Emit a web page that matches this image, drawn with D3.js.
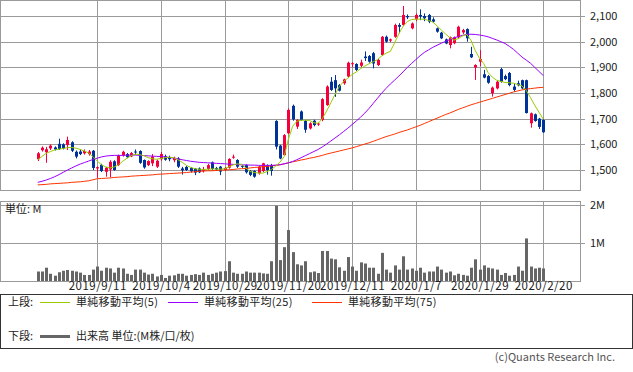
<!DOCTYPE html>
<html>
<head>
<meta charset="utf-8">
<script src="https://cdn.jsdelivr.net/npm/d3@7"></script>
<style>
  body { margin: 0; background: #fff; }
  svg { display: block; font-family: "Noto Sans CJK JP", "Noto Sans", sans-serif; }
</style>
</head>
<body>
<div id="chart"></div>
<script>
// Trading days (x categories)
const dates = [
  "2019/8/22","2019/8/23","2019/8/26","2019/8/27","2019/8/28","2019/8/29","2019/8/30",
  "2019/9/2","2019/9/3","2019/9/4","2019/9/5","2019/9/6","2019/9/9","2019/9/10","2019/9/11",
  "2019/9/12","2019/9/13","2019/9/17","2019/9/18","2019/9/19","2019/9/20","2019/9/24","2019/9/25","2019/9/26","2019/9/27","2019/9/30",
  "2019/10/1","2019/10/2","2019/10/3","2019/10/4",
  "2019/10/7","2019/10/8","2019/10/9","2019/10/10","2019/10/11","2019/10/15","2019/10/16","2019/10/17","2019/10/18","2019/10/21","2019/10/23","2019/10/24","2019/10/25","2019/10/28","2019/10/29",
  "2019/10/30","2019/10/31","2019/11/1","2019/11/5","2019/11/6","2019/11/7","2019/11/8","2019/11/11","2019/11/12","2019/11/13","2019/11/14","2019/11/15","2019/11/18","2019/11/19","2019/11/20",
  "2019/11/21","2019/11/22","2019/11/25","2019/11/26","2019/11/27","2019/11/28","2019/11/29","2019/12/2","2019/12/3","2019/12/4","2019/12/5","2019/12/6","2019/12/9","2019/12/10","2019/12/11",
  "2019/12/12","2019/12/13","2019/12/16","2019/12/17","2019/12/18","2019/12/19","2019/12/20","2019/12/23","2019/12/24","2019/12/25","2019/12/26","2019/12/27","2019/12/30","2020/1/6","2020/1/7",
  "2020/1/8","2020/1/9","2020/1/10","2020/1/14","2020/1/15","2020/1/16","2020/1/17","2020/1/20","2020/1/21","2020/1/22","2020/1/23","2020/1/24","2020/1/27","2020/1/28","2020/1/29",
  "2020/1/30","2020/1/31","2020/2/3","2020/2/4","2020/2/5","2020/2/6","2020/2/7","2020/2/10","2020/2/12","2020/2/13","2020/2/14","2020/2/17","2020/2/18","2020/2/19","2020/2/20"
];

// OHLC
const opens = [
  1542,1577,1569,1584,1588,1602,1600,1597,1608,1571,
  1572,1565,1562,1575,1506,1520,1493,1502,1534,1519,
  1556,1562,1553,1572,1574,1539,1519,1526,1513,1542,
  1554,1550,1538,1545,1506,1512,1508,1505,1506,1496,
  1504,1530,1508,1513,1500,1509,1548,1539,1516,1519,
  1496,1496,1487,1496,1519,1519,1691,1595,1558,1643,
  1750,1669,1728,1691,1662,1692,1678,1695,1753,1844,
  1850,1831,1838,1864,1912,1913,1906,1942,1944,1955,
  1909,1948,2019,2004,2019,2065,2065,2100,2052,2087,
  2104,2100,2104,2087,2052,2035,2009,1987,1994,2017,
  2036,2049,1952,1899,1922,1873,1866,1799,1818,1893,
  1866,1878,1825,1838,1850,1850,1682,1717,1700,1695
];
const highs = [
  1570,1592,1590,1600,1592,1622,1604,1630,1612,1576,
  1580,1580,1578,1578,1514,1524,1512,1538,1538,1560,
  1575,1566,1570,1580,1577,1541,1538,1562,1540,1570,
  1560,1556,1552,1550,1512,1516,1512,1508,1510,1512,
  1524,1533,1512,1516,1512,1546,1560,1542,1520,1522,
  1500,1499,1516,1528,1522,1524,1694,1598,1640,1740,
  1755,1698,1732,1695,1686,1696,1684,1780,1830,1862,
  1870,1835,1856,1922,1920,1916,1930,1962,1948,1960,
  1934,2022,2024,2012,2070,2072,2139,2106,2075,2110,
  2126,2110,2108,2095,2055,2038,2012,2020,2020,2062,
  2050,2052,1980,1912,1967,1890,1870,1825,1848,1898,
  1872,1882,1838,1848,1852,1852,1724,1720,1703,1698
];
const lows = [
  1535,1572,1528,1578,1576,1578,1580,1578,1570,1545,
  1558,1560,1556,1500,1470,1492,1474,1472,1497,1515,
  1552,1546,1550,1560,1524,1505,1515,1515,1508,1536,
  1536,1534,1530,1508,1482,1496,1490,1480,1488,1490,
  1500,1500,1496,1480,1496,1505,1544,1508,1508,1486,
  1476,1470,1482,1492,1482,1478,1580,1542,1555,1640,
  1692,1660,1692,1645,1658,1670,1672,1690,1750,1808,
  1785,1806,1832,1860,1900,1886,1900,1925,1918,1896,
  1905,1944,1996,1998,2015,2033,2060,2088,2048,2080,
  2084,2080,2072,2074,2035,2010,1990,1974,1990,2013,
  2030,2000,1936,1851,1905,1857,1836,1786,1814,1840,
  1850,1826,1805,1826,1815,1720,1665,1688,1660,1645
];
const closes = [
  1565,1587,1581,1595,1580,1582,1584,1617,1575,1552,
  1562,1574,1572,1508,1511,1496,1509,1532,1500,1557,
  1571,1550,1566,1570,1528,1510,1535,1552,1536,1562,
  1540,1542,1548,1513,1499,1500,1495,1490,1491,1502,
  1519,1504,1502,1494,1508,1543,1552,1513,1512,1491,
  1481,1474,1513,1526,1500,1496,1591,1545,1636,1734,
  1697,1695,1695,1657,1682,1675,1681,1776,1825,1812,
  1818,1809,1853,1918,1916,1890,1919,1936,1922,1915,
  1929,2019,2000,2009,2065,2058,2104,2095,2071,2104,
  2098,2091,2078,2078,2039,2013,1993,2017,2017,2058,
  2045,2013,1939,1909,1932,1860,1840,1821,1844,1844,
  1854,1831,1812,1830,1818,1722,1721,1691,1668,1647
];

// Volume, million shares
const volumes = [
  0.25,0.25,0.35,0.19,0.14,0.23,0.27,0.29,0.27,0.25,
  0.22,0.16,0.16,0.30,0.38,0.27,0.35,0.33,0.22,0.35,
  0.33,0.19,0.16,0.30,0.30,0.22,0.17,0.19,0.12,0.16,
  0.08,0.14,0.15,0.19,0.19,0.14,0.16,0.18,0.16,0.22,
  0.16,0.19,0.22,0.25,0.26,0.52,0.22,0.19,0.19,0.25,
  0.22,0.22,0.22,0.20,0.19,0.52,1.98,0.55,0.89,1.34,
  0.76,0.44,0.41,0.52,0.23,0.25,0.21,0.79,0.79,0.59,
  0.57,0.36,0.27,0.63,0.38,0.27,0.49,0.46,0.35,0.35,
  0.19,0.74,0.30,0.22,0.41,0.30,0.65,0.30,0.33,0.27,
  0.35,0.22,0.25,0.25,0.38,0.30,0.22,0.25,0.15,0.19,
  0.16,0.14,0.35,0.57,0.30,0.41,0.35,0.33,0.30,0.16,
  0.21,0.14,0.16,0.38,0.27,1.12,0.38,0.33,0.35,0.33
];

// Moving averages
const ma5 = [
  1540,1553,1565,1572,1578,1581,1584,1587,1588,1585,
  1580,1574,1566,1552,1535,1520,1512,1508,1512,1520,
  1534,1546,1556,1562,1560,1556,1548,1544,1542,1545,
  1548,1550,1548,1540,1530,1518,1510,1505,1503,1502,
  1503,1504,1504,1503,1505,1512,1520,1524,1522,1508,
  1494,1490,1488,1488,1494,1502,1515,1530,1552,1620,
  1670,1690,1694,1694,1693,1684,1682,1700,1730,1762,
  1795,1825,1845,1858,1872,1882,1895,1905,1914,1922,
  1930,1945,1955,1962,1995,2030,2060,2078,2086,2088,
  2088,2087,2083,2076,2062,2045,2030,2016,2006,2012,
  2022,2028,2005,1965,1935,1915,1880,1862,1850,1845,
  1841,1840,1838,1833,1828,1810,1782,1752,1725,1698
];
const ma25 = [
  1452,1456,1461,1467,1474,1482,1491,1500,1508,1516,
  1523,1529,1535,1541,1546,1551,1554,1556,1557,1557,
  1557,1558,1558,1558,1557,1556,1555,1554,1553,1552,
  1551,1549,1546,1543,1540,1537,1534,1532,1530,1529,
  1528,1527,1526,1525,1524,1523,1522,1521,1520,1520,
  1519,1519,1518,1518,1518,1518,1519,1521,1524,1528,
  1533,1540,1548,1556,1564,1572,1580,1590,1601,1613,
  1625,1637,1650,1663,1677,1691,1706,1722,1740,1760,
  1780,1800,1818,1835,1850,1866,1882,1900,1915,1930,
  1945,1958,1968,1978,1986,1994,2001,2008,2015,2020,
  2025,2028,2029,2028,2026,2023,2019,2013,2007,2000,
  1993,1982,1970,1955,1940,1928,1916,1900,1884,1868
];
const ma75 = [
  1442,1443,1444,1446,1447,1448,1449,1450,1452,1453,
  1454,1456,1458,1462,1466,1467,1468,1469,1471,1472,
  1473,1474,1476,1477,1478,1479,1480,1481,1483,1484,
  1485,1486,1487,1488,1489,1490,1492,1493,1495,1496,
  1497,1497,1498,1499,1500,1501,1502,1504,1505,1506,
  1508,1510,1511,1513,1514,1516,1518,1520,1524,1528,
  1532,1535,1539,1542,1546,1549,1553,1557,1562,1566,
  1570,1574,1578,1582,1586,1591,1596,1601,1606,1612,
  1618,1624,1630,1635,1640,1646,1651,1656,1662,1668,
  1674,1681,1688,1695,1702,1709,1716,1722,1729,1736,
  1742,1748,1754,1759,1764,1769,1774,1779,1784,1789,
  1794,1799,1804,1808,1812,1815,1817,1819,1821,1822
];

// Axis ticks
const tickDates = ["2019/9/11","2019/10/4","2019/10/29","2019/11/20","2019/12/11","2020/1/7","2020/1/29","2020/2/20"];
const priceTicks = [1500, 1600, 1700, 1800, 1900, 2000, 2100];
const volumeTicks = [1, 2];

async function draw() {

  // Dimensions
  let dimensions = {
    width: 633,
    height: 372,
    plotRight: 580,
    priceTop: 0,
    priceBottom: 190,
    volTop: 201,
    volBottom: 281
  };

  const gridColor = "#9a9a9a";
  const upColor = "#f5003c";
  const downColor = "#003399";
  const textColor = "#222";

  const svg = d3
    .select("#chart")
    .append("svg")
    .attr("width", dimensions.width)
    .attr("height", dimensions.height);

  // Scales
  const xScale = d3.scalePoint()
    .domain(dates)
    .range([0.5, dimensions.plotRight + 0.5])
    .padding(8.77);

  const yScale = d3.scaleLinear()
    .domain([1500, 2100])
    .range([170, 16]);

  const vScale = d3.scaleLinear()
    .domain([0, 2])
    .range([dimensions.volBottom, 205]);

  const crisp = v => Math.round(v) + 0.5;

  // Grid - price panel
  const grid = svg.append("g").attr("stroke", gridColor).attr("stroke-width", 1);

  grid.selectAll(".px")
    .data(tickDates)
    .join("line")
    .attr("x1", d => crisp(xScale(d)))
    .attr("x2", d => crisp(xScale(d)))
    .attr("y1", dimensions.priceTop)
    .attr("y2", dimensions.priceBottom);

  grid.selectAll(".py")
    .data(priceTicks)
    .join("line")
    .attr("x1", 0)
    .attr("x2", dimensions.plotRight + 5)
    .attr("y1", d => crisp(yScale(d)))
    .attr("y2", d => crisp(yScale(d)));

  // Grid - volume panel
  grid.selectAll(".vx")
    .data(tickDates)
    .join("line")
    .attr("x1", d => crisp(xScale(d)))
    .attr("x2", d => crisp(xScale(d)))
    .attr("y1", dimensions.volTop)
    .attr("y2", dimensions.volBottom);

  grid.selectAll(".vy")
    .data(volumeTicks)
    .join("line")
    .attr("x1", 0)
    .attr("x2", dimensions.plotRight + 5)
    .attr("y1", d => crisp(vScale(d)))
    .attr("y2", d => crisp(vScale(d)));

  // panel borders
  svg.append("rect")
    .attr("x", 0.5).attr("y", 0.5)
    .attr("width", dimensions.plotRight).attr("height", dimensions.priceBottom)
    .attr("fill", "none").attr("stroke", gridColor);
  svg.append("rect")
    .attr("x", 0.5).attr("y", dimensions.volTop + 0.5)
    .attr("width", dimensions.plotRight).attr("height", dimensions.volBottom - dimensions.volTop)
    .attr("fill", "none").attr("stroke", gridColor);

  // Right axes
  const yAxis = d3.axisRight(yScale)
    .tickValues(priceTicks)
    .tickSize(0)
    .tickPadding(10)
    .tickFormat(d3.format(","));
  const yAxisGroup = svg.append("g")
    .attr("transform", `translate(${dimensions.plotRight}, 0)`)
    .call(yAxis);

  const vAxis = d3.axisRight(vScale)
    .tickValues(volumeTicks)
    .tickSize(0)
    .tickPadding(10)
    .tickFormat(d => d + "M");
  const vAxisGroup = svg.append("g")
    .attr("transform", `translate(${dimensions.plotRight}, 0)`)
    .call(vAxis);

  const xAxis = d3.axisBottom(xScale)
    .tickValues(tickDates)
    .tickSize(0)
    .tickPadding(1);
  const xAxisGroup = svg.append("g")
    .attr("transform", `translate(0, ${dimensions.volBottom})`)
    .call(xAxis);

  [yAxisGroup, vAxisGroup, xAxisGroup].forEach(g => {
    g.select(".domain").remove();
    g.selectAll("text")
      .attr("fill", textColor)
      .style("font-size", "11px")
      .style("font-family", '"Noto Sans CJK JP", sans-serif');
  });
  // date labels in the original are a touch wider
  xAxisGroup.selectAll("text")
    .style("font-size", "11.5px")
    .style("letter-spacing", "0.5px");

  // Unit label
  svg.append("text")
    .attr("x", 5)
    .attr("y", 213)
    .attr("fill", textColor)
    .style("font-size", "11px")
    .text("単位: M");

  // Volume bars
  svg.append("g")
    .selectAll("rect")
    .data(volumes)
    .join("rect")
    .attr("x", (d, i) => Math.round(xScale(dates[i])) - 1)
    .attr("y", d => vScale(d))
    .attr("width", 3)
    .attr("height", d => dimensions.volBottom - vScale(d))
    .attr("fill", "#666");

  // Candles
  const candles = dates.map((date, i) => ({
    date, open: opens[i], high: highs[i], low: lows[i], close: closes[i]
  }));

  const candleGroup = svg.append("g");
  const candle = candleGroup.selectAll("g")
    .data(candles)
    .join("g")
    .attr("fill", d => d.close >= d.open ? upColor : downColor)
    .attr("stroke", d => d.close >= d.open ? upColor : downColor);

  candle.append("line")
    .attr("x1", d => Math.round(xScale(d.date)) + 0.5)
    .attr("x2", d => Math.round(xScale(d.date)) + 0.5)
    .attr("y1", d => yScale(d.high))
    .attr("y2", d => yScale(d.low))
    .attr("stroke-width", 1);

  candle.append("rect")
    .attr("x", d => Math.round(xScale(d.date)) - 1)
    .attr("y", d => yScale(Math.max(d.open, d.close)))
    .attr("width", 3)
    .attr("height", d => Math.max(1, Math.abs(yScale(d.open) - yScale(d.close))))
    .attr("stroke", "none");

  // Moving averages
  const lineGenerator = d3.line()
    .x((d, i) => xScale(dates[i]))
    .y(d => yScale(d));

  const maSeries = [
    { values: ma75, color: "#ff3300" },
    { values: ma25, color: "#9900ff" },
    { values: ma5, color: "#99cc00" }
  ];

  svg.append("g")
    .selectAll("path")
    .data(maSeries)
    .join("path")
    .attr("d", d => lineGenerator(d.values))
    .attr("fill", "none")
    .attr("stroke", d => d.color)
    .attr("stroke-width", 1);

  // Legend
  const legend = svg.append("g").style("font-size", "11px").attr("fill", textColor);

  legend.append("rect")
    .attr("x", 0.5).attr("y", 294.5)
    .attr("width", 632).attr("height", 54)
    .attr("fill", "none").attr("stroke", "#333");

  legend.append("text").attr("x", 8).attr("y", 306).text("上段:");
  legend.append("text").attr("x", 8).attr("y", 340).text("下段:");

  const legendItems = [
    { x: 40, label: "単純移動平均(5)", color: "#99cc00" },
    { x: 168, label: "単純移動平均(25)", color: "#9900ff" },
    { x: 312, label: "単純移動平均(75)", color: "#ff3300" }
  ];

  legendItems.forEach(item => {
    legend.append("line")
      .attr("x1", item.x).attr("x2", item.x + 30)
      .attr("y1", 302.5).attr("y2", 302.5)
      .attr("stroke", item.color);
    legend.append("text")
      .attr("x", item.x + 36).attr("y", 306)
      .style("letter-spacing", "0.3px")
      .text(item.label);
  });

  legend.append("line")
    .attr("x1", 40).attr("x2", 70)
    .attr("y1", 336.5).attr("y2", 336.5)
    .attr("stroke", "#666").attr("stroke-width", 3);
  legend.append("text")
    .attr("x", 76).attr("y", 340)
    .text("出来高 単位:(M株/口/枚)");

  // Credit
  svg.append("text")
    .attr("x", 615).attr("y", 361)
    .attr("text-anchor", "end")
    .attr("fill", "#555")
    .style("font-size", "11px")
    .text("(c)Quants Research Inc.");
}

draw();
</script>
</body>
</html>
